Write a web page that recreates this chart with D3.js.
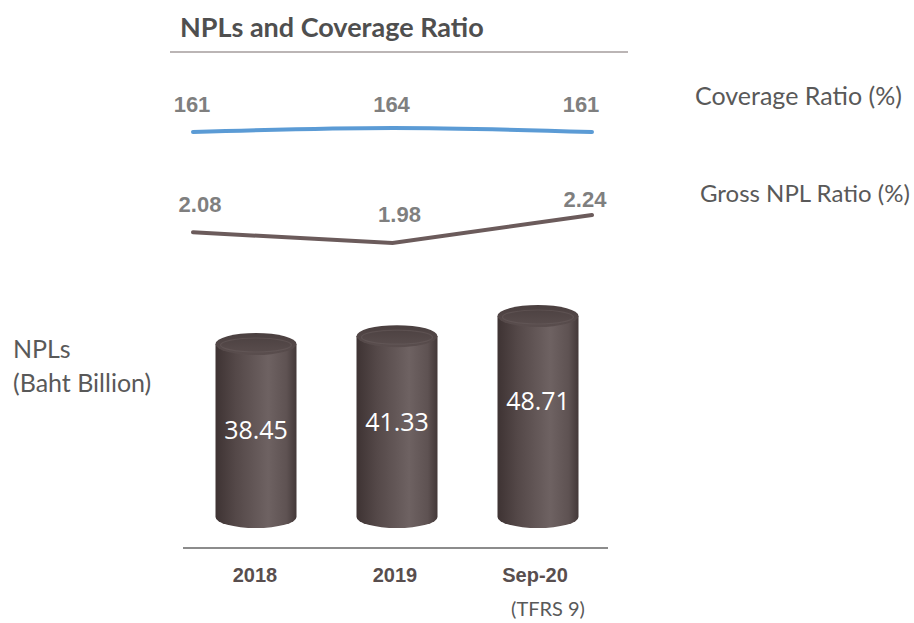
<!DOCTYPE html>
<html>
<head>
  <meta charset="utf-8">
  <title>NPLs and Coverage Ratio</title>
  <script src="https://cdnjs.cloudflare.com/ajax/libs/d3/7.8.5/d3.min.js"></script>
  <style>
    html, body { margin: 0; padding: 0; background: #fff; }
    svg { display: block; }
  </style>
</head>
<body>
  <svg id="chart" width="914" height="623"></svg>
  <script>
    // data
    const categories = ['2018', '2019', 'Sep-20']
    const nplValues = [38.45, 41.33, 48.71]
    const coverageRatio = [161, 164, 161]
    const grossNplRatio = [2.08, 1.98, 2.24]

    const svg = d3.select('#chart')

    const calibri = 'Lato, "Open Sans", sans-serif'
    const sans = '"Open Sans", "Noto Sans", sans-serif'
    const arial = '"Liberation Sans", Arial, sans-serif'

    // scales
    const xLine = d3.scalePoint().domain(categories).range([193, 592])
    const xBar = d3.scalePoint().domain(categories).range([256, 538])
    const yCov = d3.scaleLinear().domain([161, 164]).range([132, 128])
    const yNpl = d3.scaleLinear().domain([1.98, 2.24]).range([243, 215])
    const yBar = d3.scaleLinear().domain([38.45, 48.71]).range([333, 305])

    // gradients
    const defs = svg.append('defs')
    const body = defs.append('linearGradient').attr('id', 'cyl').attr('x1', 0).attr('x2', 1).attr('y1', 0).attr('y2', 0)
    body.append('stop').attr('offset', '0%').attr('stop-color', '#3e3333')
    body.append('stop').attr('offset', '25%').attr('stop-color', '#544848')
    body.append('stop').attr('offset', '65%').attr('stop-color', '#6e6262')
    body.append('stop').attr('offset', '88%').attr('stop-color', '#5e5252')
    body.append('stop').attr('offset', '100%').attr('stop-color', '#433838')
    const cap = defs.append('linearGradient').attr('id', 'cap').attr('x1', 0).attr('x2', 0).attr('y1', 0).attr('y2', 1)
    cap.append('stop').attr('offset', '0%').attr('stop-color', '#4a3f3f')
    cap.append('stop').attr('offset', '100%').attr('stop-color', '#5a4e4e')

    // title
    svg.append('text')
      .attr('x', 180).attr('y', 37)
      .attr('font-family', calibri).attr('font-weight', 700).attr('font-size', 27)
      .attr('fill', '#4f4f4f')
      .text('NPLs and Coverage Ratio')
    svg.append('line')
      .attr('x1', 170).attr('x2', 628).attr('y1', 52).attr('y2', 52)
      .attr('stroke', '#a59c9c').attr('stroke-width', 1.5)

    // coverage ratio line
    const covLine = d3.line().x((d, i) => xLine(categories[i])).y(d => yCov(d)).curve(d3.curveMonotoneX)
    svg.append('path')
      .datum(coverageRatio)
      .attr('d', covLine)
      .attr('fill', 'none').attr('stroke', '#5b9bd5').attr('stroke-width', 4)
      .attr('stroke-linecap', 'round')
    const covLblDx = [-1, -1, -11]
    svg.selectAll('.covlbl').data(coverageRatio).join('text')
      .attr('x', (d, i) => xLine(categories[i]) + covLblDx[i])
      .attr('y', 112)
      .attr('text-anchor', 'middle')
      .attr('font-family', arial).attr('font-weight', 700).attr('font-size', 22)
      .attr('fill', '#7f7f7f')
      .text(d => d)

    // gross npl ratio line
    const nplLine = d3.line().x((d, i) => xLine(categories[i])).y(d => yNpl(d))
    svg.append('path')
      .datum(grossNplRatio)
      .attr('d', nplLine)
      .attr('fill', 'none').attr('stroke', '#6b5b5b').attr('stroke-width', 4)
      .attr('stroke-linecap', 'round')
    const nplLblDx = [7, 7, -7]
    const nplLblDy = [-20, -21, -8]
    svg.selectAll('.npllbl').data(grossNplRatio).join('text')
      .attr('x', (d, i) => xLine(categories[i]) + nplLblDx[i])
      .attr('y', (d, i) => yNpl(d) + nplLblDy[i])
      .attr('text-anchor', 'middle')
      .attr('font-family', arial).attr('font-weight', 700).attr('font-size', 22)
      .attr('fill', '#7f7f7f')
      .text(d => d.toFixed(2))

    // legend labels
    svg.append('text').attr('x', 695).attr('y', 105)
      .attr('font-family', calibri).attr('font-size', 25).attr('fill', '#595959')
      .text('Coverage Ratio (%)')
    svg.append('text').attr('x', 700).attr('y', 202)
      .attr('font-family', calibri).attr('font-size', 24).attr('fill', '#595959')
      .text('Gross NPL Ratio (%)')

    svg.append('text').attr('x', 13).attr('y', 358)
      .attr('font-family', calibri).attr('font-size', 25).attr('fill', '#595959')
      .text('NPLs')
    svg.append('text').attr('x', 13).attr('y', 392)
      .attr('font-family', calibri).attr('font-size', 25).attr('fill', '#595959')
      .text('(Baht Billion)')

    // cylinders
    const bw = 81
    const ry = 11
    const bottom = 517
    const bars = svg.selectAll('.cyl').data(nplValues).join('g')
    bars.each(function (d, i) {
      const g = d3.select(this)
      const cx = xBar(categories[i])
      const top = yBar(d) + ry
      g.append('path')
        .attr('d', `M${cx - bw / 2},${top} L${cx - bw / 2},${bottom} A${bw / 2},${ry} 0 0 0 ${cx + bw / 2},${bottom} L${cx + bw / 2},${top} Z`)
        .attr('fill', 'url(#cyl)')
      g.append('ellipse')
        .attr('cx', cx).attr('cy', top).attr('rx', bw / 2).attr('ry', ry)
        .attr('fill', 'url(#cap)')
      g.append('ellipse')
        .attr('cx', cx).attr('cy', top + 1).attr('rx', bw / 2 - 5).attr('ry', ry - 4)
        .attr('fill', 'none').attr('stroke', '#6a5d5d').attr('stroke-width', 1.2).attr('opacity', 0.5)
    })
    const lblY = [430, 422, 401]
    svg.selectAll('.barlbl').data(nplValues).join('text')
      .attr('x', (d, i) => xBar(categories[i]))
      .attr('y', (d, i) => lblY[i])
      .attr('dy', '0.35em')
      .attr('text-anchor', 'middle')
      .attr('font-family', sans).attr('font-size', 25).attr('fill', '#ffffff')
      .text(d => d.toFixed(2))

    // baseline + category axis
    svg.append('line')
      .attr('x1', 183).attr('x2', 608).attr('y1', 548).attr('y2', 548)
      .attr('stroke', '#8c8c8c').attr('stroke-width', 2)
    const xCat = d3.scalePoint().domain(categories).range([255, 535])
    svg.selectAll('.cat').data(categories).join('text')
      .attr('x', d => xCat(d)).attr('y', 582)
      .attr('text-anchor', 'middle')
      .attr('font-family', arial).attr('font-weight', 700).attr('font-size', 20)
      .attr('fill', '#584e4e')
      .text(d => d)
    svg.append('text').attr('x', 548).attr('y', 616)
      .attr('text-anchor', 'middle')
      .attr('font-family', calibri).attr('font-size', 20).attr('fill', '#595959')
      .text('(TFRS 9)')
  </script>
</body>
</html>
